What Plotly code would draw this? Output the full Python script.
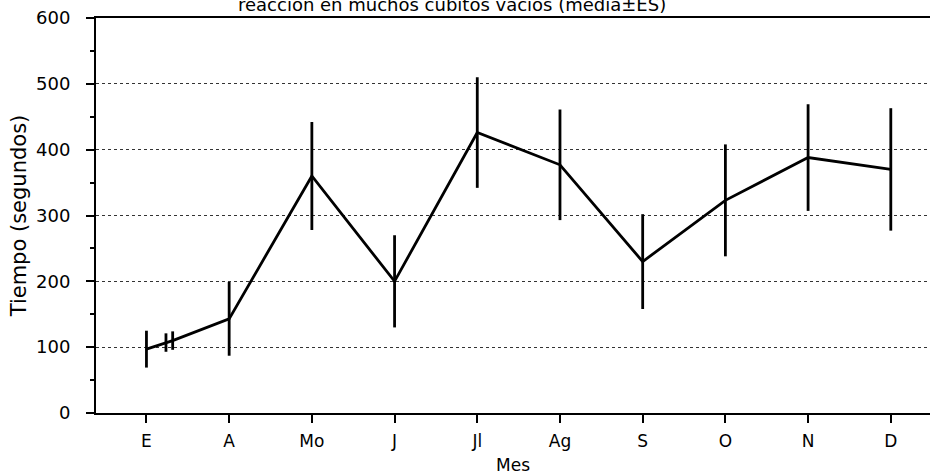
import plotly.graph_objects as go

# Monthly reaction time (mean ± standard error)
meses = ["E", "A", "Mo", "J", "Jl", "Ag", "S", "O", "N", "D"]
posicion = [0, 1, 2, 3, 4, 5, 6, 7, 8, 9]
media = [97, 143, 360, 200, 426, 377, 230, 323, 388, 370]
error_est = [28, 56, 82, 70, 84, 84, 72, 85, 81, 93]

# Two extra short-interval samples taken just after "E"
extra_pos = [0.236, 0.317]
extra_media = [107, 110]
extra_es = [14, 14]

# Merge into one series ordered along the x axis
puntos = sorted(
    list(zip(posicion, media, error_est)) + list(zip(extra_pos, extra_media, extra_es))
)
xs = [p[0] for p in puntos]
ys = [p[1] for p in puntos]
es = [p[2] for p in puntos]

yticks = [0, 100, 200, 300, 400, 500, 600]

fuente = "DejaVu Sans, Verdana, sans-serif"

fig = go.Figure()
fig.add_trace(
    go.Scatter(
        x=xs,
        y=ys,
        mode="lines",
        line=dict(color="black", width=2.8),
        error_y=dict(type="data", array=es, visible=True, color="black",
                     thickness=2.8, width=0),
        showlegend=False,
        hoverinfo="skip",
    )
)

fig.update_layout(
    width=930,
    height=475,
    margin=dict(l=96, r=0, t=18, b=62),
    paper_bgcolor="white",
    plot_bgcolor="white",
    font=dict(family=fuente, color="black", size=17),
    annotations=[
        dict(
            text="reaccion en muchos cubitos vacíos (media±ES)",
            x=(452 - 96) / 834, y=1 + (18 - 17) / 395,
            xref="paper", yref="paper",
            xanchor="center", yanchor="bottom",
            showarrow=False, font=dict(size=18, family=fuente),
        ),
    ],
)

fig.update_xaxes(
    range=[-0.61, 9.474],
    tickmode="array",
    tickvals=posicion,
    ticktext=meses,
    ticks="outside",
    ticklen=8,
    tickwidth=1.5,
    tickcolor="black",
    ticklabelstandoff=4,
    showline=True,
    linecolor="black",
    linewidth=2,
    mirror=True,
    showgrid=False,
    zeroline=False,
    tickfont=dict(size=17),
    title=dict(text="Mes", standoff=9, font=dict(size=17)),
)
fig.update_yaxes(
    range=[0, 600],
    tickmode="array",
    tickvals=yticks,
    ticks="outside",
    ticklen=8,
    tickwidth=1.5,
    tickcolor="black",
    ticklabelstandoff=12,
    showline=True,
    linecolor="black",
    linewidth=2,
    showgrid=True,
    gridcolor="#333333",
    griddash="dot",
    gridwidth=1,
    zeroline=False,
    minor=dict(tickvals=[50, 150, 250, 350, 450, 550], ticks="outside",
               ticklen=4, tickcolor="black", showgrid=False),
    tickfont=dict(size=18),
    title=dict(text="Tiempo (segundos)", standoff=4, font=dict(size=21)),
)

fig.write_html("out.html")
